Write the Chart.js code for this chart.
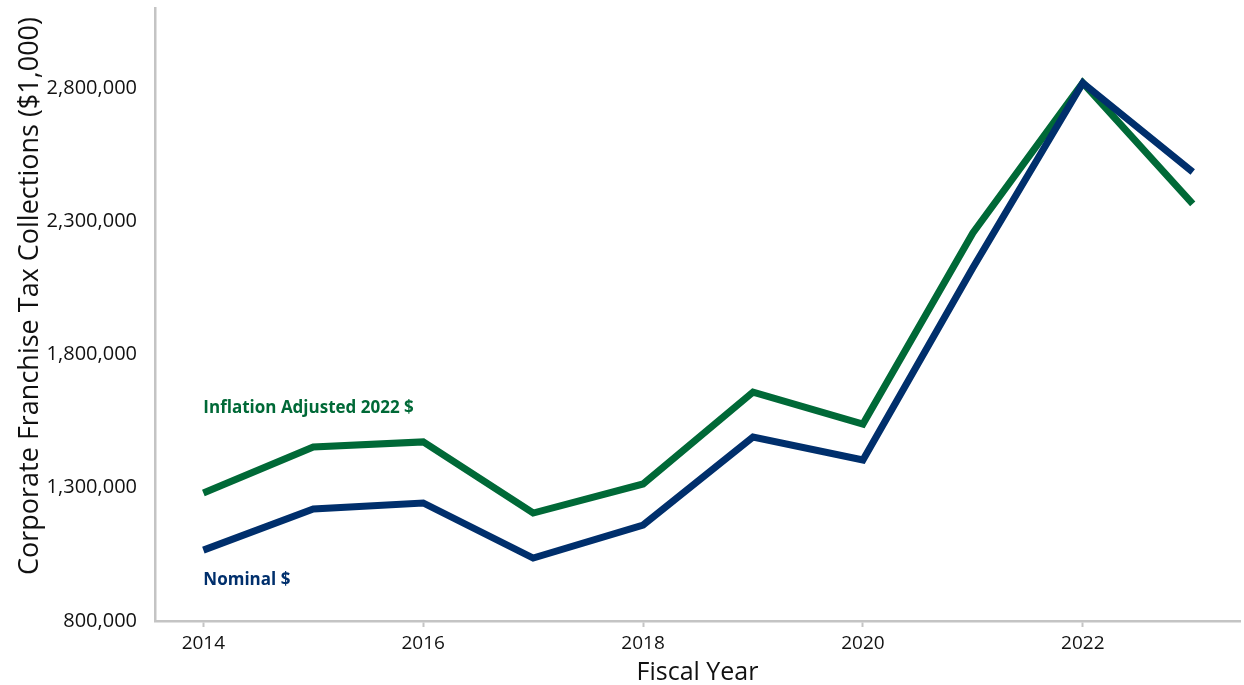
<!DOCTYPE html>
<html>
<head>
<meta charset="utf-8">
<script src="https://cdn.jsdelivr.net/npm/chart.js@4/dist/chart.umd.min.js"></script>
<style>
  html, body { margin: 0; padding: 0; background: #fff; }
  #wrap { width: 1244px; height: 685px; }
</style>
</head>
<body>
<div id="wrap"><canvas id="taxChart" width="1244" height="685"></canvas></div>
<script>
// fiscal years and collections ($1,000)
const years = [2014, 2015, 2016, 2017, 2018, 2019, 2020, 2021, 2022, 2023];
const nominal = [1066000, 1220000, 1243000, 1036000, 1160000, 1490000, 1404000, 2125000, 2819000, 2485000];
const inflationAdjusted = [1280000, 1453000, 1472000, 1205000, 1314000, 1659000, 1539000, 2256000, 2819000, 2365000];
const seriesNames = ["Nominal $", "Inflation Adjusted 2022 $"];
const xTicks = [2014, 2016, 2018, 2020, 2022];
const yTicks = [800000, 1300000, 1800000, 2300000, 2800000];
const yTitle = "Corporate Franchise Tax Collections ($1,000)";

const GREEN = "#006937";
const BLUE = "#002f6c";
const AXIS = "#c4c4c4";

function toPoints(values) {
    return years.map((y, i) => ({ x: y, y: values[i] }));
}

// series names next to the start of each line, plus the y title
// (drawn by hand so it can sit a bit above the axis middle like the original)
const lineLabels = {
    id: "lineLabels",
    afterDatasetsDraw(chart) {
        const ctx = chart.ctx;
        const xs = chart.scales.x;
        const ys = chart.scales.y;
        ctx.save();
        ctx.font = "bold 17px 'Open Sans'";
        ctx.textBaseline = "middle";
        ctx.textAlign = "left";
        ctx.fillStyle = GREEN;
        ctx.fillText(seriesNames[1], xs.getPixelForValue(years[0]), ys.getPixelForValue(1599000));
        ctx.fillStyle = BLUE;
        ctx.fillText(seriesNames[0], xs.getPixelForValue(years[0]), ys.getPixelForValue(954000));

        ctx.translate(30, 296);
        ctx.rotate(-Math.PI / 2);
        ctx.textAlign = "center";
        ctx.fillStyle = "#111";
        ctx.font = "27px 'Open Sans'";
        ctx.fillText(yTitle, 0, 0);
        ctx.restore();
    }
};

new Chart(document.getElementById("taxChart"), {
    type: "line",
    data: {
        datasets: [{
            label: seriesNames[0],
            data: toPoints(nominal),
            borderColor: BLUE,
            backgroundColor: BLUE,
            borderWidth: 7,
            pointRadius: 0,
            tension: 0,
            borderJoinStyle: "miter"
        }, {
            label: seriesNames[1],
            data: toPoints(inflationAdjusted),
            borderColor: GREEN,
            backgroundColor: GREEN,
            borderWidth: 7,
            pointRadius: 0,
            tension: 0,
            borderJoinStyle: "miter"
        }]
    },
    options: {
        responsive: false,
        animation: false,
        layout: { padding: { top: 8, right: 4, left: 0, bottom: 0 } },
        plugins: {
            legend: { display: false },
            tooltip: { enabled: false }
        },
        scales: {
            x: {
                type: "linear",
                min: 2013.56,
                max: 2023.43,
                afterBuildTicks: (scale) => { scale.ticks = xTicks.map(v => ({ value: v })); },
                afterFit: (scale) => { scale.height = 64; },
                grid: {
                    display: true,
                    drawOnChartArea: false,
                    drawTicks: true,
                    tickLength: 6,
                    tickWidth: 2,
                    color: AXIS
                },
                border: { display: true, color: AXIS, width: 2.5 },
                ticks: {
                    color: "#111",
                    font: { family: "'Open Sans'", size: 19 },
                    padding: 5,
                    maxRotation: 0,
                    callback: (v) => String(v)
                },
                title: {
                    display: true,
                    text: "Fiscal Year",
                    color: "#111",
                    font: { family: "'Open Sans'", size: 25, lineHeight: 1 },
                    padding: { top: 0, bottom: 0 }
                }
            },
            y: {
                min: 800000,
                max: 3100000,
                afterBuildTicks: (scale) => { scale.ticks = yTicks.map(v => ({ value: v })); },
                afterFit: (scale) => {
                    scale.width = 155;
                    scale.paddingTop = 0;
                    scale.paddingBottom = 0;
                },
                grid: { display: false },
                border: { display: true, color: AXIS, width: 2.5 },
                ticks: {
                    color: "#111",
                    font: { family: "'Open Sans'", size: 20 },
                    padding: 10,
                    callback: (v) => Number(v).toLocaleString("en-US")
                },
                title: { display: false }
            }
        }
    },
    plugins: [lineLabels]
});
</script>
</body>
</html>
